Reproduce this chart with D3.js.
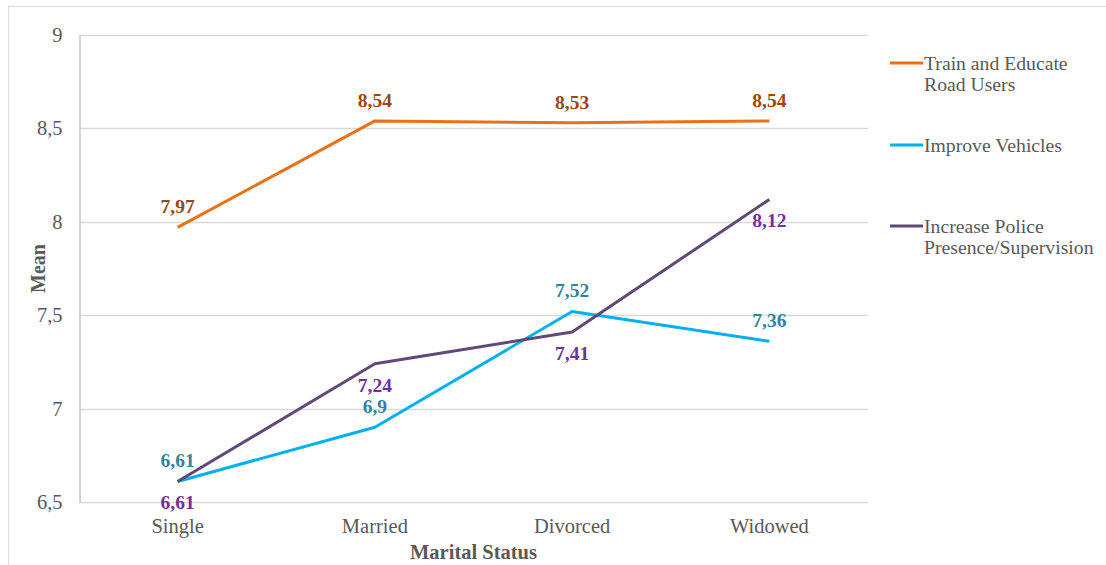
<!DOCTYPE html>
<html>
<head>
<meta charset="utf-8">
<script src="https://cdn.jsdelivr.net/npm/d3@7/dist/d3.min.js"></script>
</head>
<body style="margin:0">
<svg id="chart" width="1106" height="565" font-family="Liberation Serif"></svg>
<script>
// Marital status groups on the x axis
const categories = ["Single", "Married", "Divorced", "Widowed"];

// Mean scores per measure
const trainEducate = [7.97, 8.54, 8.53, 8.54];
const improveVehicles = [6.61, 6.9, 7.52, 7.36];
const policePresence = [6.61, 7.24, 7.41, 8.12];

// Labels of the value axis
const yTicks = [6.5, 7, 7.5, 8, 8.5, 9];

const seriesNames = [
  ["Train and Educate", "Road Users"],
  ["Improve Vehicles"],
  ["Increase Police", "Presence/Supervision"]
];

const series = [
  { name: seriesNames[0], values: trainEducate, color: "#E8711A", labelColor: "#984806", pos: ["up", "up", "up", "up"] },
  { name: seriesNames[1], values: improveVehicles, color: "#00B0F0", labelColor: "#31849B", pos: ["up", "up", "up", "up"] },
  { name: seriesNames[2], values: policePresence, color: "#5F497A", labelColor: "#7030A0", pos: ["down", "down", "down", "down"] }
];

const FONT = "'Liberation Serif'";

const svg = d3.select("#chart");
const plot = { left: 79, right: 868, top: 35, bottom: 502 };

// Outer chart border (right and bottom edges fall outside the frame)
svg.append("rect")
  .attr("x", 8.5).attr("y", 6.5)
  .attr("width", 1120).attr("height", 600)
  .attr("fill", "none").attr("stroke", "#D9D9D9").attr("stroke-width", 1);

const x = d3.scaleBand().domain(categories).range([plot.left, plot.right]);
const y = d3.scaleLinear().domain([6.5, 9]).range([plot.bottom, plot.top]);
const fmt = v => String(v).replace(".", ",");

// Horizontal gridlines
svg.append("g").selectAll("line").data(yTicks).join("line")
  .attr("x1", plot.left).attr("x2", plot.right)
  .attr("y1", d => Math.round(y(d)) + 0.5).attr("y2", d => Math.round(y(d)) + 0.5)
  .attr("stroke", "#D9D9D9").attr("stroke-width", 1.3);

// Value axis
const yAxis = svg.append("g")
  .attr("transform", `translate(${plot.left + 0.5},0)`)
  .call(d3.axisLeft(y).tickValues(yTicks).tickFormat(fmt).tickSize(0).tickPadding(17))
  .attr("font-family", "Liberation Serif").attr("font-size", 20.5);
yAxis.select(".domain").attr("stroke", "#BFBFBF").attr("stroke-width", 1.3);
yAxis.selectAll("text").attr("fill", "#595959").style("font-family", FONT);

// Category axis
const xAxis = svg.append("g")
  .attr("transform", `translate(0,${plot.bottom})`)
  .call(d3.axisBottom(x).tickSize(0).tickPadding(16))
  .attr("font-family", "Liberation Serif").attr("font-size", 20.5);
xAxis.select(".domain").remove();
xAxis.selectAll("text").attr("fill", "#595959").style("font-family", FONT);

// Axis titles
svg.append("text")
  .attr("x", (plot.left + plot.right) / 2).attr("y", 559)
  .attr("text-anchor", "middle").attr("font-size", 20.5).attr("font-weight", "bold")
  .style("font-family", FONT)
  .attr("fill", "#595959").text("Marital Status");
svg.append("text")
  .attr("transform", `translate(45,${(plot.top + plot.bottom) / 2}) rotate(-90)`)
  .attr("text-anchor", "middle").attr("font-size", 20).attr("font-weight", "bold")
  .style("font-family", FONT)
  .attr("fill", "#595959").text("Mean");

// Lines
const line = d3.line()
  .x((d, i) => x(categories[i]) + x.bandwidth() / 2)
  .y(d => y(d));

series.forEach(s => {
  svg.append("path").datum(s.values)
    .attr("d", line).attr("fill", "none")
    .attr("stroke", s.color).attr("stroke-width", 3)
    .attr("stroke-linejoin", "round");
});

// Data labels
series.forEach(s => {
  svg.append("g").selectAll("text").data(s.values).join("text")
    .attr("x", (d, i) => x(categories[i]) + x.bandwidth() / 2)
    .attr("y", (d, i) => y(d) + (s.pos[i] === "up" ? -14 : 28))
    .attr("text-anchor", "middle").attr("font-size", 19.5).attr("font-weight", "bold")
    .style("font-family", FONT)
    .attr("fill", s.labelColor).text(d => fmt(d));
});

// Legend
const legendY = [63, 145, 226];
series.forEach((s, k) => {
  const g = svg.append("g").attr("transform", `translate(890,${legendY[k]})`);
  g.append("line").attr("x1", 0).attr("x2", 33).attr("y1", 0).attr("y2", 0)
    .attr("stroke", s.color).attr("stroke-width", 3);
  s.name.forEach((t, j) => {
    g.append("text").attr("x", 34).attr("y", 7 + j * 21)
      .attr("font-size", 19.7).style("font-family", FONT)
      .attr("fill", "#595959").text(t);
  });
});
</script>
</body>
</html>
